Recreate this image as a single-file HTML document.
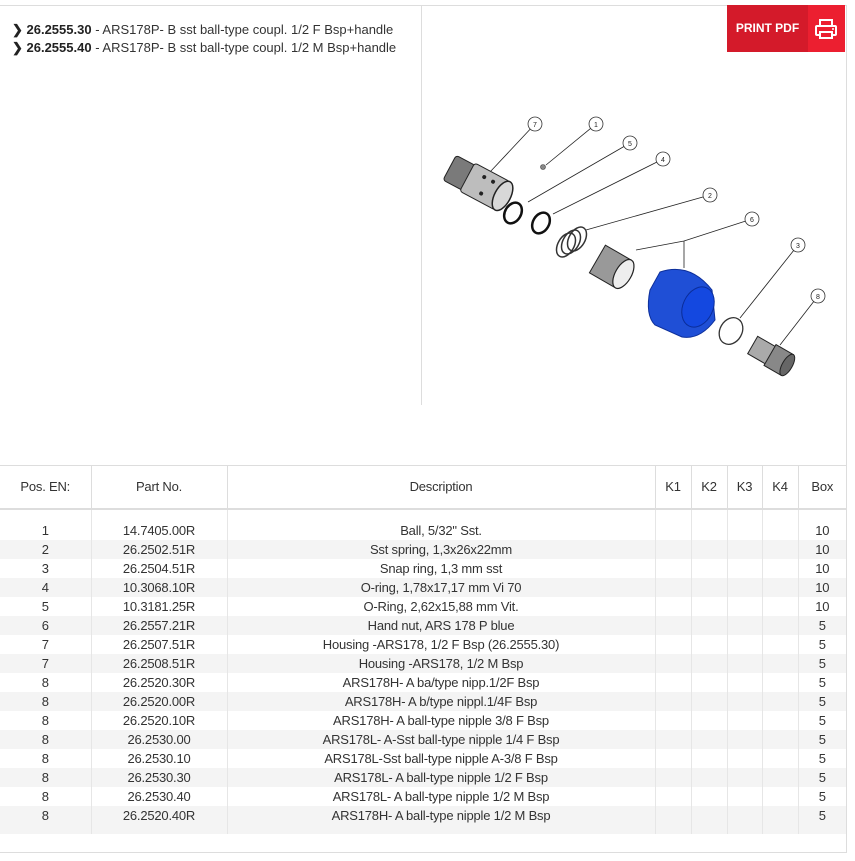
<!DOCTYPE html>
<html><head><meta charset="utf-8">
<style>
*{margin:0;padding:0;box-sizing:border-box}
body{width:855px;height:861px;background:#fff;position:relative;overflow:hidden;font-family:"Liberation Sans Narrow","Liberation Sans",sans-serif;color:#333}
.ab{position:absolute}
.hl{position:absolute;height:1px;background:#ddd}
.vl{position:absolute;width:1px;background:#ddd}
.hdr{font-family:"Liberation Sans",sans-serif;font-size:13px;color:#333;line-height:18px}
.hdr b{color:#222}
table{position:absolute;left:0;top:465px;width:846px;border-collapse:collapse;font-size:13px;letter-spacing:-0.2px}
th{font-weight:normal;height:43px;border-right:1px solid #ddd;border-bottom:2px solid #ddd;border-top:1px solid #ddd}
td{height:19px;line-height:19px;text-align:center;border-right:1px solid #e6e6e6;padding:0;white-space:nowrap}
th:last-child,td:last-child{border-right:none}
tr.g td{background:#f4f4f4}
tr.sp td{height:12px;line-height:12px}
tr.last td{height:28px;vertical-align:top;padding-bottom:9px}
</style></head><body>
<div class="hl" style="left:0;top:5px;width:847px"></div>
<div class="vl" style="left:421px;top:5px;height:400px"></div>
<div class="vl" style="left:846px;top:5px;height:848px"></div>
<div class="ab hdr" style="left:12px;top:21px">
<div><b>&#x276F; 26.2555.30</b> - ARS178P- B sst ball-type coupl. 1/2 F Bsp+handle</div>
<div><b>&#x276F; 26.2555.40</b> - ARS178P- B sst ball-type coupl. 1/2 M Bsp+handle</div>
</div>
<div class="ab" style="left:727px;top:5px;width:81px;height:47px;background:#d41a2a;color:#fff;font-family:'Liberation Sans',sans-serif;font-weight:bold;font-size:12px;line-height:47px;text-align:center">PRINT PDF</div>
<div class="ab" style="left:808px;top:5px;width:37px;height:47px;background:#ec1f30">
<svg width="37" height="47" viewBox="0 0 37 47"><g fill="none" stroke="#fff" stroke-width="2"><rect x="12" y="15" width="12" height="6"/><rect x="8" y="21" width="20" height="9" rx="1"/><rect x="12" y="27" width="12" height="6" fill="#ec1f30"/></g><circle cx="25" cy="24" r="1" fill="#fff"/></svg>
</div>
<svg class="ab" style="left:0;top:0" width="855" height="420">
<g stroke="#222" stroke-width="0.8" fill="none">
<line x1="535" y1="124" x2="490" y2="172"/>
<line x1="596" y1="124" x2="546" y2="165"/>
<line x1="630" y1="143" x2="528" y2="202"/>
<line x1="663" y1="159" x2="553" y2="214"/>
<line x1="710" y1="195" x2="586" y2="230"/>
<polyline points="752,219 684,241 636,250"/>
<line x1="684" y1="241" x2="684" y2="268"/>
<line x1="798" y1="245" x2="740" y2="318"/>
<line x1="818" y1="296" x2="780" y2="345"/>
</g>
<g stroke="#333" stroke-width="0.8" fill="#fff">
<circle cx="535" cy="124" r="7"/><circle cx="596" cy="124" r="7"/><circle cx="630" cy="143" r="7"/><circle cx="663" cy="159" r="7"/><circle cx="710" cy="195" r="7"/><circle cx="752" cy="219" r="7"/><circle cx="798" cy="245" r="7"/><circle cx="818" cy="296" r="7"/>
</g>
<g font-family="Liberation Sans,sans-serif" font-size="7" fill="#222" text-anchor="middle">
<text x="535" y="127">7</text><text x="596" y="127">1</text><text x="630" y="146">5</text><text x="663" y="162">4</text><text x="710" y="198">2</text><text x="752" y="222">6</text><text x="798" y="248">3</text><text x="818" y="299">8</text>
</g>
<g transform="rotate(28 480 185)">
<rect x="445" y="170" width="22" height="28" rx="3" fill="#7a7a7a" stroke="#222"/>
<rect x="465" y="168" width="40" height="32" rx="3" fill="#bdbdbd" stroke="#222"/>
<ellipse cx="505" cy="184" rx="8" ry="16" fill="#d8d8d8" stroke="#222" stroke-width="1.5"/>
<circle cx="480" cy="176" r="2" fill="#222"/><circle cx="490" cy="176" r="2" fill="#222"/><circle cx="485" cy="192" r="2" fill="#222"/>
</g>
<circle cx="543" cy="167" r="2.5" fill="#888" stroke="#444" stroke-width="0.6"/>
<ellipse cx="513" cy="213" rx="8" ry="11" fill="none" stroke="#111" stroke-width="2.5" transform="rotate(30 513 213)"/>
<ellipse cx="541" cy="223" rx="8" ry="11" fill="none" stroke="#111" stroke-width="2.5" transform="rotate(30 541 223)"/>
<g fill="none" stroke="#333" stroke-width="1.5">
<ellipse cx="566" cy="245" rx="8" ry="13" transform="rotate(30 566 245)"/>
<ellipse cx="571" cy="242" rx="8" ry="13" transform="rotate(30 571 242)"/>
<ellipse cx="577" cy="239" rx="8" ry="13" transform="rotate(30 577 239)"/>
</g>
<g transform="rotate(30 613 268)">
<rect x="595" y="252" width="30" height="32" fill="#999" stroke="#222"/>
<ellipse cx="625" cy="268" rx="8" ry="16" fill="#eee" stroke="#222" stroke-width="1.2"/>
</g>
<path d="M660 272 Q690 262 712 290 L715 320 Q700 340 682 337 L655 325 Q645 315 650 290 Z" fill="#1f4fd6" stroke="#0d2f9a" stroke-width="1"/>
<ellipse cx="698" cy="307" rx="15" ry="21" fill="#1448e0" stroke="#0a2d9a" transform="rotate(25 698 307)"/>
<ellipse cx="731" cy="331" rx="11" ry="14" fill="none" stroke="#333" stroke-width="1.3" transform="rotate(30 731 331)"/>
<g transform="rotate(30 770 355)">
<rect x="750" y="345" width="22" height="20" fill="#aaa" stroke="#222"/>
<rect x="770" y="343" width="20" height="24" fill="#888" stroke="#222"/>
<ellipse cx="790" cy="355" rx="5" ry="12" fill="#666" stroke="#222"/>
</g>
</svg>
<table>
<colgroup><col style="width:91px"><col style="width:136px"><col style="width:428px"><col style="width:36px"><col style="width:36px"><col style="width:35px"><col style="width:36px"><col style="width:48px"></colgroup>
<tr><th>Pos. EN:</th><th>Part No.</th><th>Description</th><th>K1</th><th>K2</th><th>K3</th><th>K4</th><th>Box</th></tr>
<tr class="sp"><td></td><td></td><td></td><td></td><td></td><td></td><td></td><td></td></tr>
<tr><td>1</td><td>14.7405.00R</td><td>Ball, 5/32" Sst.</td><td></td><td></td><td></td><td></td><td>10</td></tr>
<tr class="g"><td>2</td><td>26.2502.51R</td><td>Sst spring, 1,3x26x22mm</td><td></td><td></td><td></td><td></td><td>10</td></tr>
<tr><td>3</td><td>26.2504.51R</td><td>Snap ring, 1,3 mm sst</td><td></td><td></td><td></td><td></td><td>10</td></tr>
<tr class="g"><td>4</td><td>10.3068.10R</td><td>O-ring, 1,78x17,17 mm Vi 70</td><td></td><td></td><td></td><td></td><td>10</td></tr>
<tr><td>5</td><td>10.3181.25R</td><td>O-Ring, 2,62x15,88 mm Vit.</td><td></td><td></td><td></td><td></td><td>10</td></tr>
<tr class="g"><td>6</td><td>26.2557.21R</td><td>Hand nut, ARS 178 P blue</td><td></td><td></td><td></td><td></td><td>5</td></tr>
<tr><td>7</td><td>26.2507.51R</td><td>Housing -ARS178, 1/2 F Bsp (26.2555.30)</td><td></td><td></td><td></td><td></td><td>5</td></tr>
<tr class="g"><td>7</td><td>26.2508.51R</td><td>Housing -ARS178, 1/2 M Bsp</td><td></td><td></td><td></td><td></td><td>5</td></tr>
<tr><td>8</td><td>26.2520.30R</td><td>ARS178H- A ba/type nipp.1/2F Bsp</td><td></td><td></td><td></td><td></td><td>5</td></tr>
<tr class="g"><td>8</td><td>26.2520.00R</td><td>ARS178H- A b/type nippl.1/4F Bsp</td><td></td><td></td><td></td><td></td><td>5</td></tr>
<tr><td>8</td><td>26.2520.10R</td><td>ARS178H- A ball-type nipple 3/8 F Bsp</td><td></td><td></td><td></td><td></td><td>5</td></tr>
<tr class="g"><td>8</td><td>26.2530.00</td><td>ARS178L- A-Sst ball-type nipple 1/4 F Bsp</td><td></td><td></td><td></td><td></td><td>5</td></tr>
<tr><td>8</td><td>26.2530.10</td><td>ARS178L-Sst ball-type nipple A-3/8 F Bsp</td><td></td><td></td><td></td><td></td><td>5</td></tr>
<tr class="g"><td>8</td><td>26.2530.30</td><td>ARS178L- A ball-type nipple 1/2 F Bsp</td><td></td><td></td><td></td><td></td><td>5</td></tr>
<tr><td>8</td><td>26.2530.40</td><td>ARS178L- A ball-type nipple 1/2 M Bsp</td><td></td><td></td><td></td><td></td><td>5</td></tr>
<tr class="g last"><td>8</td><td>26.2520.40R</td><td>ARS178H- A ball-type nipple 1/2 M Bsp</td><td></td><td></td><td></td><td></td><td>5</td></tr>
</table>
<div class="hl" style="left:0;top:852px;width:847px"></div>
</body></html>
